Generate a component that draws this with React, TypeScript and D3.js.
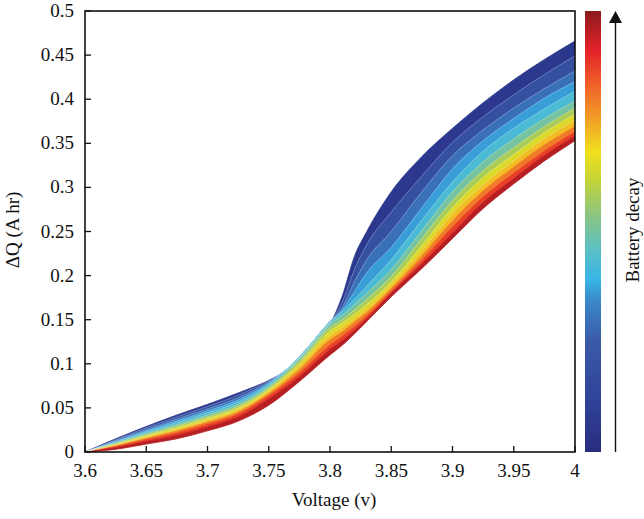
import React from 'react';
import * as d3 from 'd3';

// Voltage grid (V)
const voltages = [3.6, 3.625, 3.65, 3.675, 3.7, 3.725, 3.75, 3.775, 3.8, 3.81, 3.82, 3.83, 3.85, 3.875, 3.9, 3.925, 3.95, 3.975, 4.0];

// ΔQ curves (A hr), from least decayed (navy) to most decayed (dark red)
const curveDecay00 = [0, 0.015, 0.029, 0.042, 0.054, 0.067, 0.081, 0.100, 0.144, 0.177, 0.222, 0.250, 0.295, 0.335, 0.367, 0.396, 0.422, 0.445, 0.466];
const curveDecay12 = [0, 0.0140, 0.0274, 0.0398, 0.0516, 0.0644, 0.0808, 0.103, 0.146, 0.170, 0.207, 0.235, 0.272, 0.313, 0.351, 0.380, 0.405, 0.428, 0.449];
const curveDecay25 = [0, 0.0130, 0.0256, 0.0374, 0.0489, 0.0616, 0.0795, 0.106, 0.147, 0.164, 0.193, 0.218, 0.250, 0.295, 0.336, 0.365, 0.390, 0.412, 0.432];
const curveDecay34 = [0, 0.0120, 0.0240, 0.0353, 0.0465, 0.059, 0.078, 0.107, 0.148, 0.161, 0.182, 0.203, 0.232, 0.277, 0.321, 0.353, 0.378, 0.401, 0.420];
const curveDecay39 = [0, 0.0112, 0.0226, 0.0334, 0.0444, 0.0568, 0.0765, 0.108, 0.147, 0.159, 0.173, 0.188, 0.218, 0.263, 0.306, 0.341, 0.367, 0.389, 0.409];
const curveDecay46 = [0, 0.0102, 0.0210, 0.0312, 0.0420, 0.0542, 0.0745, 0.106, 0.145, 0.155, 0.167, 0.180, 0.207, 0.251, 0.295, 0.329, 0.355, 0.378, 0.398];
const curveDecay54 = [0, 0.0094, 0.0196, 0.0293, 0.0399, 0.052, 0.0725, 0.103, 0.141, 0.150, 0.161, 0.173, 0.199, 0.242, 0.285, 0.319, 0.345, 0.369, 0.390];
const curveDecay62 = [0, 0.0085, 0.0182, 0.0274, 0.0378, 0.0497, 0.0705, 0.100, 0.137, 0.146, 0.156, 0.167, 0.193, 0.234, 0.277, 0.311, 0.337, 0.362, 0.383];
const curveDecay68 = [0, 0.0077, 0.0168, 0.0255, 0.0357, 0.0475, 0.0685, 0.097, 0.132, 0.141, 0.151, 0.162, 0.189, 0.228, 0.270, 0.303, 0.330, 0.355, 0.376];
const curveDecay76 = [0, 0.0068, 0.0154, 0.0236, 0.0336, 0.0452, 0.066, 0.093, 0.127, 0.136, 0.147, 0.158, 0.185, 0.222, 0.262, 0.296, 0.323, 0.348, 0.369];
const curveDecay84 = [0, 0.0059, 0.0138, 0.0215, 0.0312, 0.0427, 0.0635, 0.089, 0.121, 0.131, 0.142, 0.154, 0.182, 0.217, 0.255, 0.289, 0.316, 0.341, 0.363];
const curveDecay91 = [0, 0.0047, 0.0118, 0.0188, 0.0282, 0.0395, 0.060, 0.085, 0.116, 0.126, 0.138, 0.151, 0.180, 0.213, 0.248, 0.283, 0.310, 0.336, 0.358];
const curveDecay100 = [0, 0.003, 0.009, 0.015, 0.024, 0.035, 0.053, 0.080, 0.110, 0.121, 0.134, 0.148, 0.176, 0.208, 0.242, 0.276, 0.304, 0.330, 0.353];

const decayLevels = [0, 0.12, 0.25, 0.34, 0.39, 0.46, 0.54, 0.62, 0.68, 0.76, 0.84, 0.91, 1];
const curves = [curveDecay00, curveDecay12, curveDecay25, curveDecay34, curveDecay39, curveDecay46, curveDecay54, curveDecay62, curveDecay68, curveDecay76, curveDecay84, curveDecay91, curveDecay100];

// Colour map (battery decay 0 -> 1)
const colorStops = [0, 0.12, 0.25, 0.34, 0.39, 0.46, 0.54, 0.62, 0.68, 0.76, 0.84, 0.91, 1];
const colorValues = ['#292d7f', '#2f439a', '#3a5aa8', '#3a86c8', '#38b4e6', '#5cc0c4', '#8ec67e', '#c6d434', '#f0e01c', '#f29a28', '#ef5b28', '#e3222a', '#8c1a1b'];

const xTickValues = [3.6, 3.65, 3.7, 3.75, 3.8, 3.85, 3.9, 3.95, 4];
const xTickLabels = ['3.6', '3.65', '3.7', '3.75', '3.8', '3.85', '3.9', '3.95', '4'];
const yTickValues = [0, 0.05, 0.1, 0.15, 0.2, 0.25, 0.3, 0.35, 0.4, 0.45, 0.5];
const yTickLabels = ['0', '0.05', '0.1', '0.15', '0.2', '0.25', '0.3', '0.35', '0.4', '0.45', '0.5'];

const W = 644;
const H = 519;
const M = { left: 85, right: 575, top: 11, bottom: 452 };
const FONT = '"Liberation Serif", "DejaVu Serif", serif';

export default function App() {
  const x = d3.scaleLinear().domain([3.6, 4]).range([M.left, M.right]);
  const y = d3.scaleLinear().domain([0, 0.5]).range([M.bottom, M.top]);
  const color = d3.scaleLinear<string>().domain(colorStops).range(colorValues).interpolate(d3.interpolateRgb);

  const bands = [];
  for (let i = 0; i < curves.length - 1; i++) {
    const upper = curves[i];
    const lower = curves[i + 1];
    const area = d3
      .area<number>()
      .x((_, j) => x(voltages[j]))
      .y0((_, j) => y(lower[j]))
      .y1((_, j) => y(upper[j]))
      .curve(d3.curveMonotoneX);
    const t = (decayLevels[i] + decayLevels[i + 1]) / 2;
    bands.push({ d: area(voltages) as string, fill: color(t) });
  }

  const line = (c: number[]) =>
    d3
      .line<number>()
      .x((_, j) => x(voltages[j]))
      .y((_, j) => y(c[j]))
      .curve(d3.curveMonotoneX)(voltages) as string;

  const cbX = 585;
  const cbW = 16;
  const cbScale = d3.scaleLinear().domain([0, 1]).range([M.bottom, M.top]);

  return (
    <div style={{ position: 'fixed', left: 0, top: 0 }}>
      <svg width={W} height={H} style={{ display: 'block', background: '#fff' }} fontFamily={FONT}>
        <defs>
          <clipPath id="plotClip">
            <rect x={M.left} y={M.top} width={M.right - M.left} height={M.bottom - M.top} />
          </clipPath>
          <linearGradient id="cbGrad" x1="0" y1="1" x2="0" y2="0">
            {colorStops.map((s, i) => (
              <stop key={i} offset={`${s * 100}%`} stopColor={colorValues[i]} />
            ))}
          </linearGradient>
        </defs>

        <g clipPath="url(#plotClip)">
          {bands.map((b, i) => (
            <path key={`b${i}`} d={b.d} fill={b.fill} stroke={b.fill} strokeWidth={0.8} />
          ))}
          {curves.map((c, i) => (
            <path key={`l${i}`} d={line(c)} fill="none" stroke="#ffffff" strokeOpacity={i > 0 && i < 9 ? 0.35 : 0} strokeWidth={0.7} />
          ))}
        </g>

        {/* frame */}
        <rect x={M.left} y={M.top} width={M.right - M.left} height={M.bottom - M.top} fill="none" stroke="#111" strokeWidth={1.6} />

        {/* x ticks */}
        {xTickValues.map((v, i) => (
          <g key={`xt${i}`}>
            <line x1={x(v)} x2={x(v)} y1={M.bottom} y2={M.bottom - 6} stroke="#111" strokeWidth={1.3} />
            <text x={x(v)} y={477} textAnchor="middle" fontSize={19} fill="#111">
              {xTickLabels[i]}
            </text>
          </g>
        ))}
        {/* y ticks */}
        {yTickValues.map((v, i) => (
          <g key={`yt${i}`}>
            <line x1={M.left} x2={M.left + 6} y1={y(v)} y2={y(v)} stroke="#111" strokeWidth={1.3} />
            <text x={74} y={y(v) + 6} textAnchor="end" fontSize={19} fill="#111">
              {yTickLabels[i]}
            </text>
          </g>
        ))}

        <text x={334} y={506} textAnchor="middle" fontSize={19} fill="#111">
          Voltage (v)
        </text>
        <text transform={`translate(19,230) rotate(-90)`} textAnchor="middle" fontSize={19} fill="#111">
          ΔQ (A hr)
        </text>

        {/* colour bar */}
        <rect x={cbX} y={cbScale(1)} width={cbW} height={cbScale(0) - cbScale(1)} fill="url(#cbGrad)" />

        {/* arrow */}
        <line x1={615.5} x2={615.5} y1={452} y2={20} stroke="#111" strokeWidth={1.4} />
        <path d="M609,23 L615.5,11 L622,23 Z" fill="#111" />
        <text transform={`translate(639,230) rotate(-90)`} textAnchor="middle" fontSize={19} fill="#111">
          Battery decay
        </text>
      </svg>
    </div>
  );
}
